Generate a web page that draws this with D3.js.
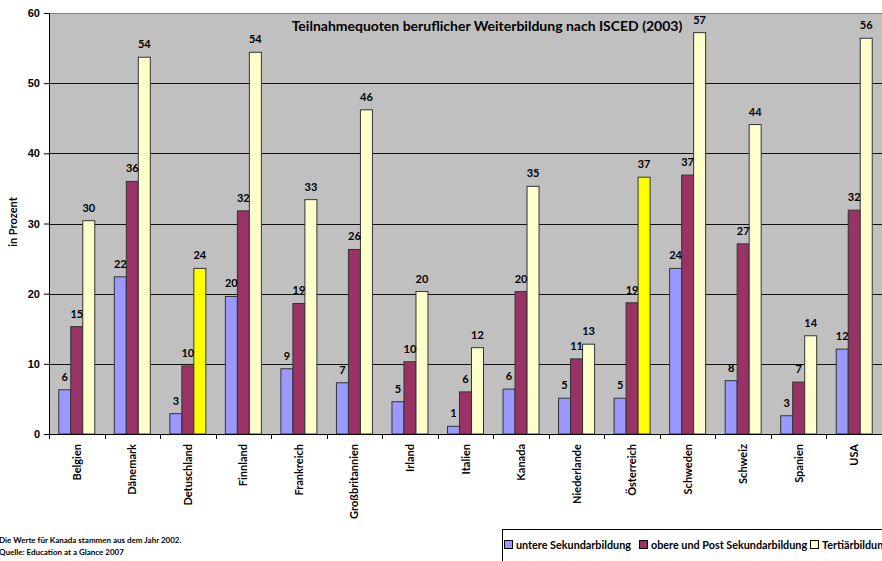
<!DOCTYPE html>
<html>
<head>
<meta charset="utf-8">
<script src="https://cdn.jsdelivr.net/npm/d3@7"></script>
<style>
  body { margin: 0; background: #fff; }
  svg { display: block; font-family: Lato, "Liberation Sans Narrow", sans-serif; font-weight: bold; }
</style>
</head>
<body>
<svg id="chart" width="882" height="561"></svg>
<script>
// Laender (Schreibweise wie im Original)
var categories = ["Belgien", "Dänemark", "Detuschland", "Finnland", "Frankreich", "Großbritannien",
  "Irland", "Italien", "Kanada", "Niederlande", "Österreich", "Schweden", "Schweiz", "Spanien", "USA"];

var seriesNames = ["untere Sekundarbildung", "obere und Post Sekundarbildung", "Tertiärbildung"];

var untere  = [6.3, 22.4, 2.9, 19.6, 9.3, 7.3, 4.6, 1.1, 6.4, 5.1, 5.1, 23.6, 7.6, 2.6, 12.1];
var obere   = [15.3, 36.0, 9.7, 31.8, 18.6, 26.3, 10.3, 6.0, 20.3, 10.7, 18.7, 36.9, 27.1, 7.4, 31.9];
var tertiaer = [30.4, 53.7, 23.6, 54.4, 33.4, 46.2, 20.3, 12.3, 35.3, 12.8, 36.6, 57.2, 44.1, 14.0, 56.4];

// hervorgehobene Balken (gelb)
var highlighted = ["Detuschland", "Österreich"];

var yTicks = [0, 10, 20, 30, 40, 50, 60];

var colors = ["#9999FF", "#993366", "#FFFFCC"];
var highlightColor = "#FFFF00";

var title = "Teilnahmequoten beruflicher Weiterbildung nach ISCED (2003)";
var notes = ["Die Werte für Kanada stammen aus dem Jahr 2002.", "Quelle: Education at a Glance 2007"];

(function () {
  var svg = d3.select("#chart");
  var pLeft = 49, pRight = 882, pTop = 13, pBottom = 434;

  var values = [untere, obere, tertiaer];
  var rows = categories.map(function (c, i) {
    return { cat: c, vals: values.map(function (s, k) { return { k: k, v: s[i], cat: c }; }) };
  });

  var x0 = d3.scaleBand().domain(categories).range([pLeft, pRight]);
  var bw = x0.bandwidth();
  var x1 = d3.scaleBand().domain([0, 1, 2]).range([(bw - 36) / 2, (bw + 36) / 2]);
  var y = d3.scaleLinear().domain([0, 60]).range([pBottom, pTop]);

  // Plotflaeche
  svg.append("rect").attr("x", pLeft).attr("y", pTop).attr("width", pRight - pLeft + 5).attr("height", pBottom - pTop)
    .attr("fill", "#C0C0C0");
  svg.append("line").attr("x1", pLeft).attr("x2", pRight + 5).attr("y1", pTop + 0.5).attr("y2", pTop + 0.5)
    .attr("stroke", "#808080");

  // Gitterlinien
  svg.append("g").selectAll("line").data(yTicks.filter(function (t) { return t > 0 && t < 60; })).join("line")
    .attr("x1", pLeft).attr("x2", pRight + 5)
    .attr("y1", function (d) { return Math.round(y(d)) + 0.5; })
    .attr("y2", function (d) { return Math.round(y(d)) + 0.5; })
    .attr("stroke", "#111").attr("stroke-width", 1);

  // Titel
  svg.append("text").attr("x", 487).attr("y", 31).attr("text-anchor", "middle")
    .attr("font-size", 14).text(title);

  // Balken
  var groups = svg.append("g").selectAll("g").data(rows).join("g")
    .attr("transform", function (d) { return "translate(" + x0(d.cat) + ",0)"; });

  groups.selectAll("rect").data(function (d) { return d.vals; }).join("rect")
    .attr("x", function (d) { return x1(d.k); })
    .attr("width", x1.bandwidth())
    .attr("y", function (d) { return y(d.v); })
    .attr("height", function (d) { return y(0) - y(d.v); })
    .attr("fill", function (d) {
      if (d.k === 2 && highlighted.indexOf(d.cat) >= 0) return highlightColor;
      return colors[d.k];
    })
    .attr("stroke", "#333").attr("stroke-width", 1);

  groups.selectAll("text").data(function (d) { return d.vals; }).join("text")
    .attr("x", function (d) { return x1(d.k) + x1.bandwidth() / 2; })
    .attr("y", function (d) { return y(d.v) - 9; })
    .attr("text-anchor", "middle").attr("font-size", 11)
    .text(function (d) { return Math.round(d.v); });

  // Y-Achse
  var yAxis = d3.axisLeft(y).tickValues(yTicks).tickSize(5).tickPadding(4);
  var gy = svg.append("g").attr("transform", "translate(" + pLeft + ",0)").call(yAxis);
  gy.selectAll("text").attr("font-size", 11).attr("font-family", null).attr("font-weight", "bold").attr("fill", "#000");
  gy.selectAll("line, path").attr("stroke", "#000");

  svg.append("text").attr("transform", "translate(17,222) rotate(-90)")
    .attr("text-anchor", "middle").attr("font-size", 11).text("in Prozent");

  // X-Achse
  svg.append("line").attr("x1", pLeft).attr("x2", pRight + 5).attr("y1", pBottom + 0.5).attr("y2", pBottom + 0.5)
    .attr("stroke", "#000");
  svg.append("g").selectAll("line").data(categories).join("line")
    .attr("x1", function (d) { return Math.round(x0(d)) + 0.5; })
    .attr("x2", function (d) { return Math.round(x0(d)) + 0.5; })
    .attr("y1", pBottom).attr("y2", pBottom + 5).attr("stroke", "#000");
  svg.append("g").selectAll("text").data(categories).join("text")
    .attr("transform", function (d) {
      return "translate(" + (x0(d) + bw / 2 + 4) + "," + (pBottom + 10) + ") rotate(-90)";
    })
    .attr("text-anchor", "end").attr("font-size", 11).text(function (d) { return d; });

  // Anmerkungen
  svg.append("g").selectAll("text").data(notes).join("text")
    .attr("x", -1).attr("y", function (d, i) { return 543 + i * 11.5; })
    .attr("font-size", 8).text(function (d) { return d; });

  // Legende
  var legend = svg.append("g").attr("transform", "translate(502,529)");
  legend.append("rect").attr("x", 0.5).attr("y", 0.5).attr("width", 400).attr("height", 40)
    .attr("fill", "#fff").attr("stroke", "#000");
  var legendX = [2, 137, 308];
  var items = legend.selectAll("g.item").data(seriesNames).join("g").attr("class", "item")
    .attr("transform", function (d, i) { return "translate(" + legendX[i] + ",0)"; });
  items.append("rect").attr("x", 0.5).attr("y", 11.5).attr("width", 8).attr("height", 8)
    .attr("fill", function (d, i) { return colors[i]; }).attr("stroke", "#000");
  items.append("text").attr("x", 12).attr("y", 20).attr("font-size", 10.8)
    .text(function (d) { return d; });
})();
</script>
</body>
</html>
